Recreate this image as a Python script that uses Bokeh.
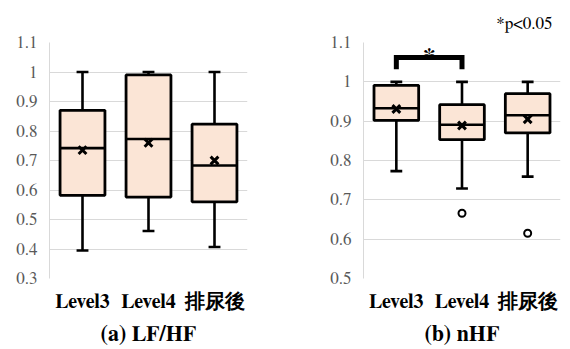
from bokeh.plotting import figure
from bokeh.layouts import row
from bokeh.models import Range1d, FixedTicker, PrintfTickFormatter, ColumnDataSource
from bokeh.transform import dodge
from bokeh.core.properties import value
from bokeh.embed import file_html
from bokeh.resources import INLINE

categories = ["Level3", "Level4", "排尿後"]

# (a) LF/HF
lf_low = [0.395, 0.461, 0.407]
lf_q1 = [0.582, 0.576, 0.560]
lf_median = [0.742, 0.773, 0.683]
lf_q3 = [0.870, 0.990, 0.823]
lf_high = [1.0, 1.0, 1.0]
lf_mean = [0.735, 0.760, 0.700]
lf_out_cat = []
lf_out_val = []
lf_ticks = [0.3, 0.4, 0.5, 0.6, 0.7, 0.8, 0.9, 1.0, 1.1]

# (b) nHF
nhf_low = [0.773, 0.729, 0.759]
nhf_q1 = [0.902, 0.853, 0.870]
nhf_median = [0.933, 0.891, 0.915]
nhf_q3 = [0.991, 0.942, 0.970]
nhf_high = [1.0, 1.0, 1.0]
nhf_mean = [0.931, 0.889, 0.905]
nhf_out_cat = ["Level4", "排尿後"]
nhf_out_val = [0.666, 0.615]
nhf_ticks = [0.5, 0.6, 0.7, 0.8, 0.9, 1.0, 1.1]

# significance bracket (Level3 vs Level4)
sig_cats = ["Level3", "Level3", "Level4", "Level4"]
sig_y = [1.032, 1.062, 1.062, 1.032]
sig_star_y = [1.064]
note_text = "*p<0.05"

SERIF = "FreeSerif"
FILL = "#fbe5d6"
GRID = "#d9d9d9"


def make_fig(caption, low, q1, med, q3, high, mean, out_cat, out_val,
             ticks, width, mb_left, mb_right, note=""):
    p = figure(x_range=categories, y_range=Range1d(ticks[0], ticks[-1]),
               width=width, height=349, output_backend="svg",
               toolbar_location=None, min_border_left=mb_left,
               min_border_right=mb_right, min_border_top=42,
               min_border_bottom=71, title=note)
    p.outline_line_color = None
    p.background_fill_color = "white"
    p.border_fill_color = "white"

    p.title.align = "right"
    p.title.offset = 8
    p.title.standoff = 21
    p.title.text_font = SERIF
    p.title.text_font_size = "17px"
    p.title.text_font_style = "normal"
    p.title.text_color = "black"

    p.ygrid.grid_line_color = GRID
    p.ygrid.grid_line_width = 1
    p.xgrid.grid_line_color = None

    p.yaxis.ticker = FixedTicker(ticks=ticks)
    p.yaxis.formatter = PrintfTickFormatter(format="%g")
    p.yaxis.axis_line_color = GRID
    p.yaxis.major_tick_line_color = None
    p.yaxis.minor_tick_line_color = None
    p.yaxis.major_tick_out = 0
    p.yaxis.major_tick_in = 0
    p.yaxis.major_label_standoff = 12
    p.yaxis.major_label_text_font = SERIF
    p.yaxis.major_label_text_font_size = "17px"
    p.yaxis.major_label_text_color = "#595959"

    p.xaxis.axis_line_color = None
    p.xaxis.major_tick_line_color = None
    p.xaxis.major_tick_out = 0
    p.xaxis.major_tick_in = 0
    p.xaxis.major_label_standoff = 13
    p.xaxis.major_label_text_font = SERIF
    p.xaxis.major_label_text_font_size = "20px"
    p.xaxis.major_label_text_font_style = "bold"
    p.xaxis.major_label_text_color = "black"
    p.xaxis.axis_label = caption
    p.xaxis.axis_label_standoff = 8
    p.xaxis.axis_label_text_font = SERIF
    p.xaxis.axis_label_text_font_size = "22px"
    p.xaxis.axis_label_text_font_style = "bold"
    p.xaxis.axis_label_text_color = "black"

    src = ColumnDataSource(dict(cat=categories, low=low, q1=q1, med=med,
                                q3=q3, high=high, mean=mean))
    lw = 2.6
    # whiskers
    p.segment(x0="cat", y0="q3", x1="cat", y1="high", source=src,
              line_color="black", line_width=lw)
    p.segment(x0="cat", y0="q1", x1="cat", y1="low", source=src,
              line_color="black", line_width=lw)
    for col in ("high", "low"):
        p.segment(x0=dodge("cat", -0.09, range=p.x_range), y0=col,
                  x1=dodge("cat", 0.09, range=p.x_range), y1=col,
                  source=src, line_color="black", line_width=lw)
    # boxes
    p.vbar(x="cat", width=0.68, top="q3", bottom="q1", source=src,
           fill_color=FILL, line_color="black", line_width=2.8)
    # medians
    p.segment(x0=dodge("cat", -0.34, range=p.x_range), y0="med",
              x1=dodge("cat", 0.34, range=p.x_range), y1="med",
              source=src, line_color="black", line_width=lw)
    # means
    p.scatter(x="cat", y="mean", source=src, marker="x", size=11,
              line_color="black", line_width=3)
    # outliers
    if out_cat:
        p.scatter(x=out_cat, y=out_val, marker="circle", size=7,
                  fill_color="white", line_color="black", line_width=2)
    return p


p1 = make_fig("(a) LF/HF", lf_low, lf_q1, lf_median, lf_q3, lf_high,
              lf_mean, lf_out_cat, lf_out_val, lf_ticks, 285, 49, 38)
p2 = make_fig("(b) nHF", nhf_low, nhf_q1, nhf_median, nhf_q3, nhf_high,
              nhf_mean, nhf_out_cat, nhf_out_val, nhf_ticks, 285, 78, 10,
              note=note_text)

p2.line(x=sig_cats, y=sig_y, line_color="black", line_width=5,
        line_join="miter")
star_src = ColumnDataSource(dict(cat=["Level3"], y=sig_star_y, t=["*"]))
p2.text(x=dodge("cat", 0.5, range=p2.x_range), y="y", text="t",
        source=star_src, text_align="center", text_baseline="alphabetic",
        text_font=value(SERIF), text_font_size="26px",
        text_font_style="bold", text_color="black")

layout = row(p1, p2)
open("out.html", "w").write(file_html(layout, INLINE))
